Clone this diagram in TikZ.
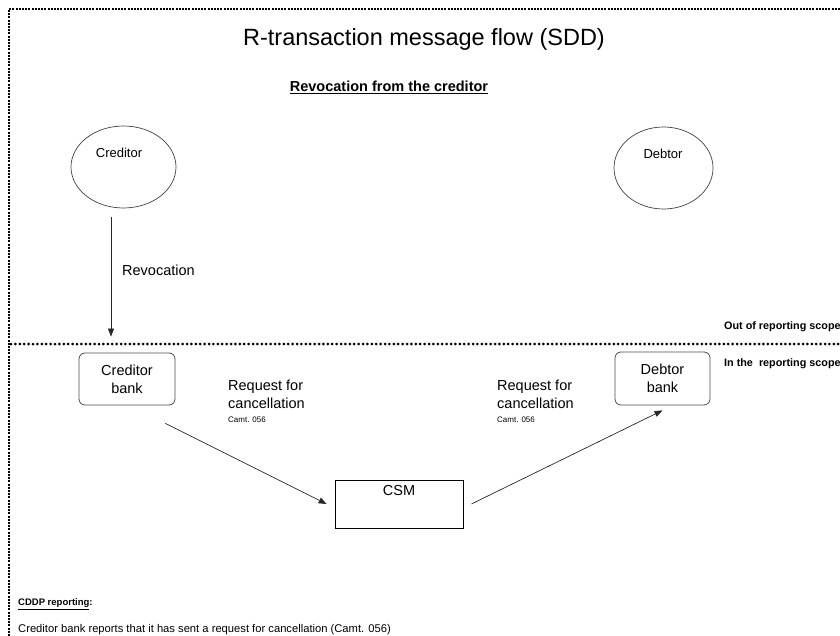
\documentclass[tikz,border=0pt]{standalone}
\usepackage{fontspec}
\setmainfont{Liberation Sans}
\usetikzlibrary{arrows.meta,shapes.geometric}
\begin{document}
\begin{tikzpicture}[x=1pt,y=-1pt,
  framedots/.style={line width=2.6pt,dash pattern=on 2pt off 1.2pt},
  sepdots/.style={line width=3pt,line cap=round,dash pattern=on 0pt off 4.4pt},
  party/.style={ellipse,draw=black!75,line width=0.7pt,minimum width=#1,minimum height=82pt,inner sep=0pt},
  bankbox/.style={draw=black!70,line width=0.8pt,rounded corners=6pt,minimum width=96pt,minimum height=52pt,align=center,inner sep=0pt,font=\fontsize{14.5}{18}\selectfont},
  csmbox/.style={draw=black,line width=0.8pt,minimum width=128pt,minimum height=48pt,inner sep=0pt},
  lbl/.style={font=\fontsize{14.5}{18}\selectfont,inner sep=0pt},
  small/.style={font=\fontsize{8}{9}\selectfont,inner sep=0pt},
  scopelbl/.style={font=\bfseries\fontsize{10.8}{12}\selectfont,anchor=west,inner sep=0pt},
  arr/.style={-{Triangle[length=8pt,width=6pt]},line width=0.7pt,draw=black!85}
]
\useasboundingbox (0,0) rectangle (840,636);
% frame
\draw[framedots] (9,636) -- (9,9) -- (840,9);
% title
\node[inner sep=0pt,font=\fontsize{23.5}{28}\selectfont] (title) at (424,39) {R-transaction message flow (SDD)};
\node[inner sep=0pt,font=\bfseries\fontsize{14.5}{17}\selectfont] (sub) at (389,87) {\underline{Revocation from the creditor}};
% parties
\node[party=105pt] (cred) at (123.5,167) {};
\node[lbl,font=\fontsize{13}{16}\selectfont] (credt) at (119,153) {Creditor};
\node[party=99pt] (debt) at (663.5,168) {};
\node[lbl,font=\fontsize{13}{16}\selectfont] (debtt) at (663,154) {Debtor};
% separator
\draw[sepdots] (11,344) -- (840,344);
\node[scopelbl] (out) at (724,327) {Out of reporting scope};
\node[scopelbl] (in) at (724,364) {In the\ \ reporting scope};
% banks
\node[bankbox] (cb) at (127,379) {Creditor\\bank};
\node[bankbox,minimum width=95pt,minimum height=53pt] (db) at (662.5,378.5) {Debtor\\bank};
% CSM
\node[csmbox] (csm) at (399,504) {};
\node[lbl,anchor=north] (csmt) at ([yshift=-6pt]csm.north) {CSM};
% arrows
\draw[arr] ([shift={(-12.5pt,-9pt)}]cred.south) -- ([shift={(-16pt,16pt)}]cb.north);
\node[lbl,anchor=west] (rev) at (122,270) {Revocation};
\draw[arr] ([shift={(-10pt,-18pt)}]cb.south east) -- ([xshift=-8pt]csm.west);
\draw[arr] ([xshift=8pt]csm.east) -- ([yshift=-5pt]db.south);
% message labels
\node[lbl,anchor=north west,align=left] (m1) at (228,380) {Request for\\cancellation};
\node[small,anchor=west] (c1) at (228,420) {Camt. 056};
\node[lbl,anchor=north west,align=left] (m2) at (497,380) {Request for\\cancellation};
\node[small,anchor=west] (c2) at (497,420) {Camt. 056};
% bottom
\node[inner sep=0pt,anchor=west,font=\bfseries\fontsize{9.5}{11}\selectfont] (cddp) at (18,604) {\underline{CDDP reporting}:};
\node[inner sep=0pt,anchor=west,font=\fontsize{11.2}{13}\selectfont] (rep) at (18,630) {Creditor bank reports that it has sent a request for cancellation (Camt. 056)};
\end{tikzpicture}
\end{document}
